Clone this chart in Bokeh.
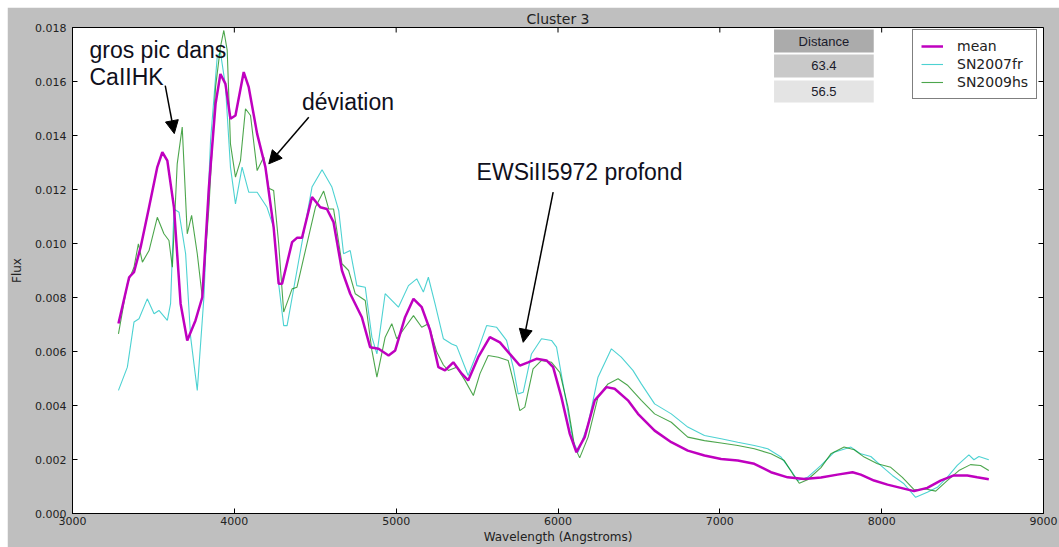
from bokeh.plotting import figure
from bokeh.models import (Range1d, FixedTicker, PrintfTickFormatter,
                          Label, Arrow, NormalHead, Spacer)
from bokeh.layouts import column, row
from bokeh.embed import file_html
from bokeh.resources import INLINE
from bokeh.core.properties import value

# ---- spectra (wavelength in Angstroms, flux) ----
mean_wl = [3284, 3350, 3380, 3421, 3473, 3524, 3555, 3586, 3627, 3668, 3709, 3760, 3802,
           3843, 3884, 3914, 3945, 3976, 4007, 4058, 4089, 4141, 4192, 4243, 4274, 4295,
           4357, 4387, 4418, 4480, 4531, 4572, 4613, 4665, 4716, 4788, 4839, 4891, 4953,
           4994, 5055, 5107, 5158, 5210, 5261, 5302, 5353, 5405, 5445, 5507, 5579, 5641,
           5702, 5764, 5815, 5867, 5929, 5970, 6021, 6073, 6114, 6165, 6227, 6299, 6350,
           6432, 6494, 6597, 6700, 6802, 6905, 7008, 7111, 7213, 7316, 7419, 7522, 7625,
           7727, 7820, 7871, 7953, 8036, 8118, 8200, 8282, 8364, 8446, 8529, 8590, 8662]
mean_flux = [0.00704, 0.00875, 0.00894, 0.00986, 0.01134, 0.01283, 0.01338, 0.01307, 0.01134,
             0.00777, 0.00641, 0.00715, 0.00801, 0.01209, 0.01517, 0.01628, 0.01591, 0.01462,
             0.01474, 0.01635, 0.01579, 0.01406, 0.01283, 0.01060, 0.00851, 0.00851, 0.01005,
             0.01021, 0.01021, 0.01172, 0.01134, 0.01128, 0.01079, 0.00900, 0.00814, 0.00727,
             0.00616, 0.00610, 0.00585, 0.00604, 0.00727, 0.00795, 0.00764, 0.00678, 0.00542,
             0.00530, 0.00560, 0.00518, 0.00493, 0.00579, 0.00653, 0.00634, 0.00591, 0.00548,
             0.00560, 0.00573, 0.00567, 0.00542, 0.00431, 0.00295, 0.00227, 0.00283, 0.00419,
             0.00468, 0.00462, 0.00419, 0.00369, 0.00307, 0.00264, 0.00233, 0.00215, 0.00202,
             0.00196, 0.00184, 0.00153, 0.00134, 0.00128, 0.00133, 0.00144, 0.00153, 0.00144,
             0.00122, 0.00107, 0.00095, 0.00083, 0.00095, 0.00122, 0.00141, 0.00141, 0.00134,
             0.00127]

fr_wl = [3284, 3339, 3380, 3411, 3462, 3504, 3534, 3586, 3606, 3627, 3658, 3699, 3730, 3771,
         3812, 3853, 3894, 3914, 3945, 3976, 4007, 4048, 4089, 4141, 4202, 4243, 4274, 4305,
         4326, 4398, 4480, 4542, 4603, 4645, 4675, 4716, 4757, 4809, 4850, 4881, 4932, 5014,
         5076, 5127, 5168, 5199, 5240, 5292, 5343, 5374, 5445, 5497, 5559, 5620, 5682, 5723,
         5754, 5785, 5836, 5898, 5960, 5991, 6042, 6093, 6124, 6186, 6247, 6330, 6391, 6463,
         6515, 6597, 6700, 6802, 6905, 7008, 7111, 7213, 7296, 7378, 7440, 7481, 7542, 7625,
         7707, 7810, 7871, 7933, 7994, 8066, 8138, 8210, 8282, 8344, 8405, 8467, 8539, 8570,
         8601, 8662]
fr_flux = [0.00456, 0.00542, 0.00709, 0.00721, 0.00795, 0.00740, 0.00752, 0.00715, 0.00777,
           0.01128, 0.01116, 0.00962, 0.00653, 0.00456, 0.00801, 0.01381, 0.01690, 0.01709,
           0.01585, 0.01283, 0.01147, 0.01283, 0.01190, 0.01190, 0.01134, 0.01060, 0.00850,
           0.00696, 0.00696, 0.00937, 0.01209, 0.01273, 0.01209, 0.01122, 0.00962, 0.00974,
           0.00844, 0.00838, 0.00653, 0.00591, 0.00814, 0.00764, 0.00844, 0.00869, 0.00820,
           0.00875, 0.00777, 0.00647, 0.00628, 0.00620, 0.00511, 0.00591, 0.00696, 0.00690,
           0.00641, 0.00542, 0.00443, 0.00449, 0.00591, 0.00647, 0.00641, 0.00616, 0.00443,
           0.00270, 0.00227, 0.00332, 0.00505, 0.00610, 0.00579, 0.00530, 0.00480, 0.00406,
           0.00369, 0.00320, 0.00289, 0.00277, 0.00264, 0.00252, 0.00240, 0.00209, 0.00159,
           0.00122, 0.00134, 0.00178, 0.00227, 0.00246, 0.00221, 0.00211, 0.00178, 0.00141,
           0.00110, 0.00060, 0.00079, 0.00097, 0.00134, 0.00178, 0.00217, 0.00199, 0.00211,
           0.00199]

hs_wl = [3284, 3339, 3380, 3407, 3432, 3473, 3524, 3565, 3596, 3617, 3647, 3678, 3709, 3736,
         3771, 3802, 3843, 3884, 3914, 3935, 3956, 3976, 4007, 4038, 4069, 4100, 4141, 4182,
         4213, 4243, 4274, 4305, 4357, 4387, 4439, 4501, 4552, 4583, 4613, 4665, 4706, 4747,
         4809, 4850, 4881, 4932, 4973, 5004, 5055, 5107, 5158, 5199, 5251, 5292, 5322, 5374,
         5425, 5477, 5518, 5569, 5631, 5692, 5723, 5764, 5795, 5846, 5898, 5960, 6011, 6062,
         6103, 6134, 6186, 6247, 6309, 6371, 6432, 6515, 6597, 6700, 6802, 6905, 7008, 7111,
         7213, 7316, 7398, 7450, 7491, 7542, 7625, 7686, 7768, 7830, 7892, 7974, 8056, 8128,
         8200, 8272, 8334, 8405, 8477, 8549, 8611, 8662]
hs_flux = [0.00665, 0.00851, 0.00912, 0.00999, 0.00931, 0.00974, 0.01097, 0.01036, 0.01011,
           0.00912, 0.01295, 0.01431, 0.01036, 0.01104, 0.00962, 0.00801, 0.01134, 0.01579,
           0.01727, 0.01789, 0.01715, 0.01369, 0.01246, 0.01307, 0.01499, 0.01474, 0.01270,
           0.01320, 0.01205, 0.01196, 0.00999, 0.00746, 0.00832, 0.00838, 0.00974, 0.01134,
           0.01194, 0.01128, 0.01128, 0.00925, 0.00900, 0.00814, 0.00789, 0.00604, 0.00505,
           0.00653, 0.00703, 0.00647, 0.00690, 0.00733, 0.00690, 0.00703, 0.00598, 0.00550,
           0.00530, 0.00542, 0.00493, 0.00437, 0.00518, 0.00585, 0.00579, 0.00567, 0.00493,
           0.00381, 0.00394, 0.00536, 0.00567, 0.00560, 0.00523, 0.00394, 0.00246, 0.00206,
           0.00283, 0.00431, 0.00480, 0.00499, 0.00474, 0.00419, 0.00369, 0.00338, 0.00283,
           0.00270, 0.00261, 0.00252, 0.00240, 0.00221, 0.00196, 0.00147, 0.00112, 0.00125,
           0.00170, 0.00221, 0.00246, 0.00236, 0.00209, 0.00184, 0.00171, 0.00134, 0.00088,
           0.00091, 0.00083, 0.00122, 0.00159, 0.00181, 0.00178, 0.00159]

series_names = ["mean", "SN2007fr", "SN2009hs"]

# distance table shown in the upper right
table_header = "Distance"
distances = [63.4, 56.5]

# axis ticks
x_ticks = [3000, 4000, 5000, 6000, 7000, 8000, 9000]
y_ticks = [0.000, 0.002, 0.004, 0.006, 0.008, 0.010, 0.012, 0.014, 0.016, 0.018]

# text notes with their arrows: (text lines, text x, text y, arrow tail x, y, arrow tip x, y)
notes = [
    (["gros pic dans", "CaIIHK"], 3105, 0.01715, 3573, 0.01585, 3629, 0.01407),
    (["déviation"], 4418, 0.01523, 4460, 0.01468, 4213, 0.01295),
    (["EWSiII5972 profond"], 5497, 0.01264, 5970, 0.01190, 5785, 0.00634),
]

GRAY = "#bfbfbf"
X0, X1 = 3000, 9000
Y0, Y1 = 0.0, 0.018

p = figure(width=1052, height=540,
           x_range=Range1d(X0, X1), y_range=Range1d(Y0, Y1),
           output_backend="svg", toolbar_location=None,
           min_border_left=63, min_border_right=16, min_border_top=20, min_border_bottom=34,
           background_fill_color="white", border_fill_color=GRAY,
           outline_line_color="black", outline_line_width=1)

p.title.text = "Cluster 3"
p.title.align = "center"
p.title.text_font = "DejaVu Sans"
p.title.text_font_size = "14px"
p.title.text_font_style = "normal"
p.title.text_color = "#222222"
p.title.standoff = 2

p.xgrid.visible = False
p.ygrid.visible = False

for ax in (p.xaxis[0], p.yaxis[0]):
    ax.major_tick_in = 5
    ax.major_tick_out = 0
    ax.minor_tick_line_color = None
    ax.axis_line_color = "black"
    ax.major_label_text_font = "DejaVu Sans"
    ax.major_label_text_font_size = "11px"
    ax.major_label_text_color = "#222222"
    ax.axis_label_text_font = "DejaVu Sans"
    ax.axis_label_text_font_size = "12px"
    ax.axis_label_text_font_style = "normal"
    ax.axis_label_text_color = "#222222"

p.xaxis.ticker = FixedTicker(ticks=x_ticks)
p.yaxis.ticker = FixedTicker(ticks=y_ticks)
p.yaxis.formatter = PrintfTickFormatter(format="%.3f")
p.xaxis.axis_label = "Wavelength (Angstroms)"
p.yaxis.axis_label = "Flux"
p.xaxis.major_label_standoff = 3
p.xaxis.axis_label_standoff = 2
p.yaxis.major_label_standoff = 6
p.yaxis.axis_label_standoff = 8

# inward tick marks along the top and right edges
tick_dy = (Y1 - Y0) * 5 / 486
tick_dx = (X1 - X0) * 5 / 973
p.segment(x0=x_ticks, x1=x_ticks, y0=[Y1] * len(x_ticks), y1=[Y1 - tick_dy] * len(x_ticks),
          line_color="black", line_width=1)
p.segment(x0=[X1] * len(y_ticks), x1=[X1 - tick_dx] * len(y_ticks), y0=y_ticks, y1=y_ticks,
          line_color="black", line_width=1)

# spectra
r_fr = p.line(fr_wl, fr_flux, line_color="#00bfbf", line_alpha=0.7, line_width=1.1,
              legend_label=series_names[1])
r_hs = p.line(hs_wl, hs_flux, line_color="#008000", line_alpha=0.7, line_width=1.1,
              legend_label=series_names[2])
r_mean = p.line(mean_wl, mean_flux, line_color="#bf00bf", line_width=2.5,
                legend_label=series_names[0])

leg = p.legend[0]
leg.items = [leg.items[2], leg.items[0], leg.items[1]]
leg.location = (840, 414)
leg.border_line_color = "black"
leg.border_line_width = 1
leg.background_fill_color = "white"
leg.background_fill_alpha = 1
leg.label_text_font = "DejaVu Sans"
leg.label_text_font_size = "14px"
leg.label_text_color = "#222222"
leg.glyph_width = 22
leg.glyph_height = 16
leg.label_height = 16
leg.label_standoff = 14
leg.spacing = 2
leg.padding = 8
leg.margin = 0

# distance table
cell_left, cell_right = 7335, 7951
row_tops = [0.01793, 0.01700, 0.01604]
row_bottoms = [0.01707, 0.01615, 0.01522]
row_colors = ["#ababab", "#c9c9c9", "#e4e4e4"]
p.quad(left=[cell_left] * 3, right=[cell_right] * 3, top=row_tops, bottom=row_bottoms,
       fill_color=row_colors, line_color=None)
cell_texts = [table_header] + ["%.1f" % d for d in distances]
p.text(x=[(cell_left + cell_right) / 2] * 3,
       y=[(t + b) / 2 for t, b in zip(row_tops, row_bottoms)],
       text=cell_texts, text_align="center", text_baseline="middle",
       text_font=value("Liberation Sans"), text_font_size="13px", text_color="#1a1a2a")

# notes and arrows
for lines, tx, ty, ax0, ay0, ax1, ay1 in notes:
    for i, line in enumerate(lines):
        p.add_layout(Label(x=tx, y=ty - i * 0.00097, text=line,
                           text_font="Liberation Sans", text_font_size="23px",
                           text_color="#10101c", text_align="left",
                           text_baseline="alphabetic"))
    p.add_layout(Arrow(end=NormalHead(size=13, fill_color="black", line_color="black"),
                       x_start=ax0, y_start=ay0, x_end=ax1, y_end=ay1,
                       line_color="black", line_width=1.5))

layout = column(Spacer(height=7), row(Spacer(width=7), p))
open("out.html", "w").write(file_html(layout, INLINE))
